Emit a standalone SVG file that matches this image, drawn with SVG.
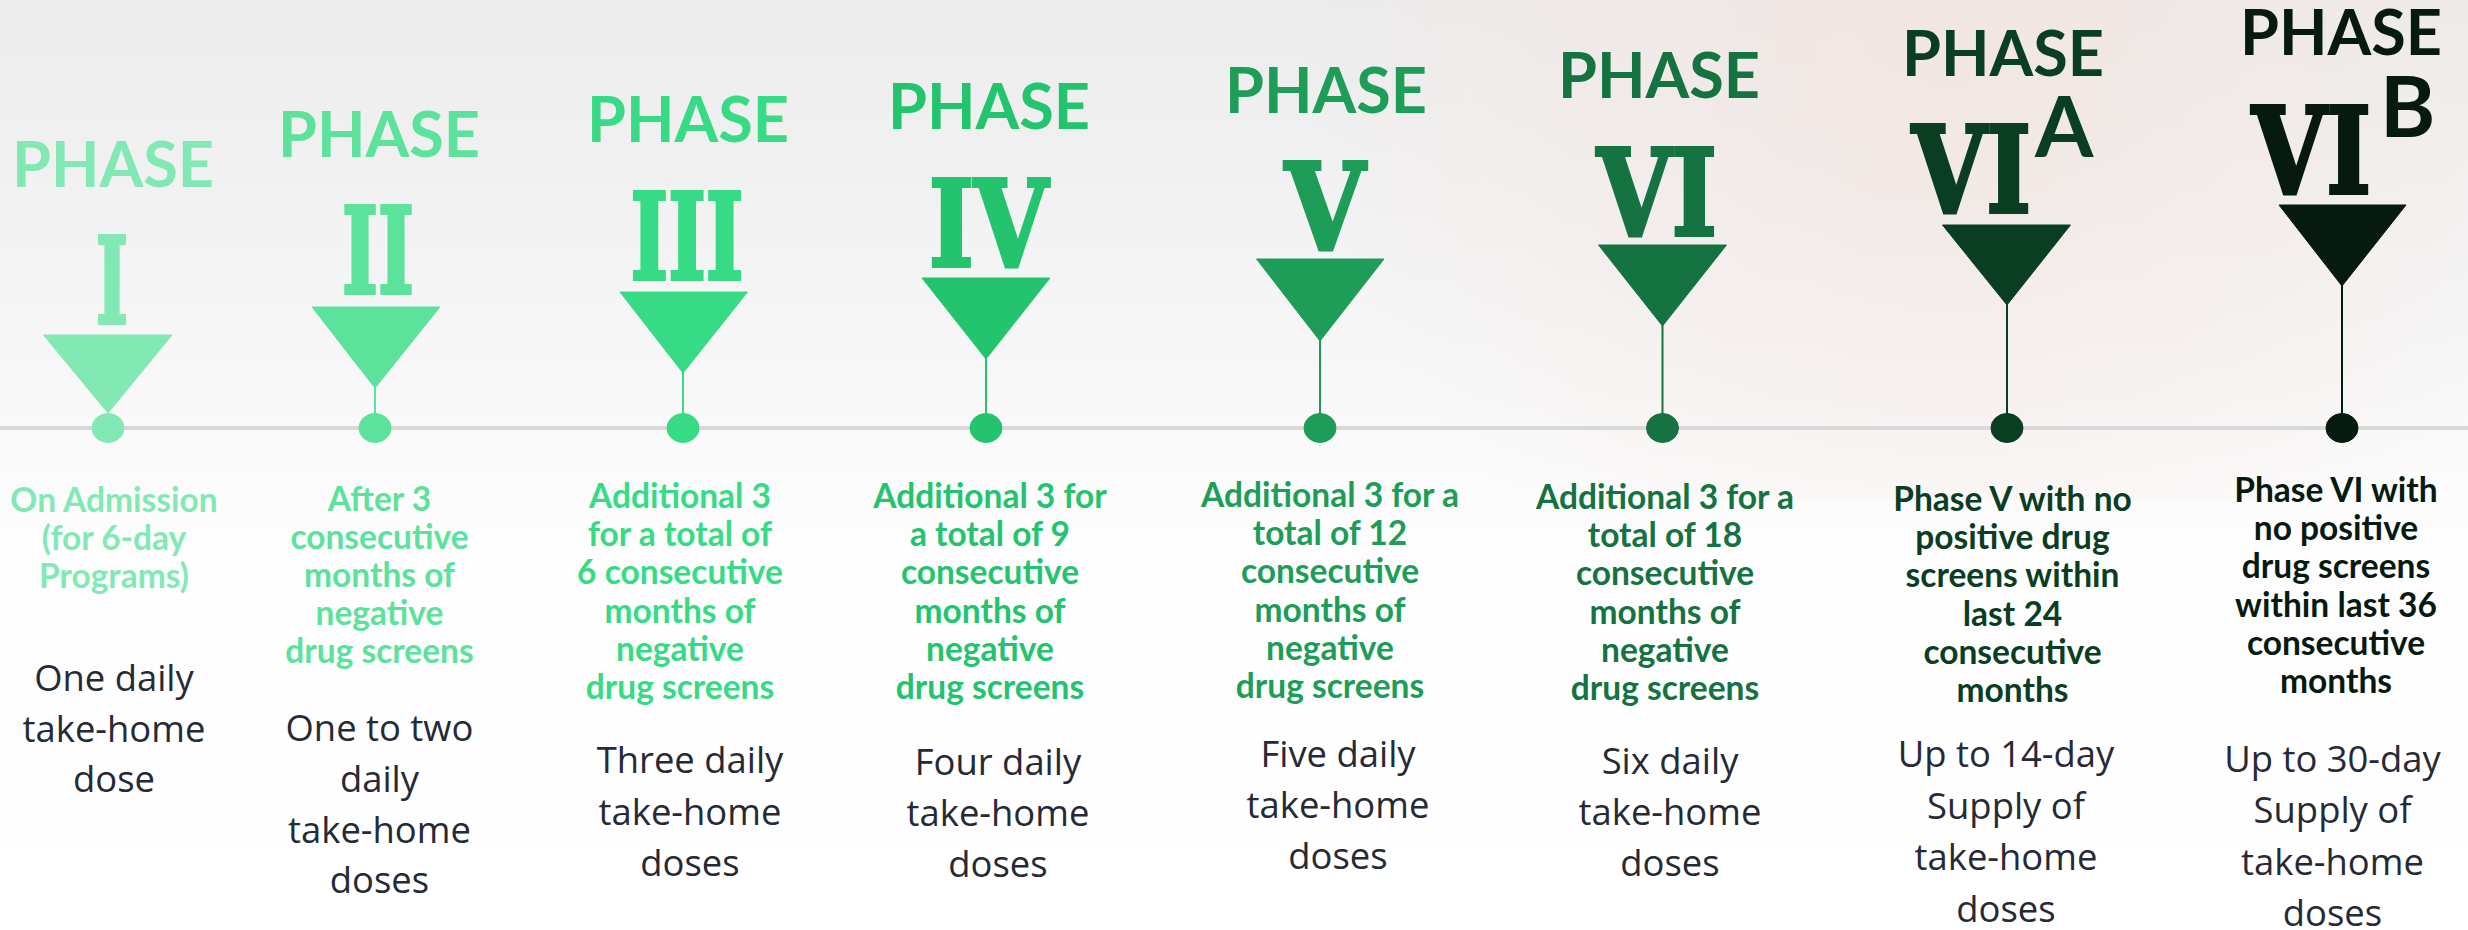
<svg xmlns="http://www.w3.org/2000/svg" width="2468" height="930" viewBox="0 0 2468 930">
  <defs>
    <linearGradient id="bgFade" x1="0" y1="0" x2="0" y2="1">
      <stop offset="0" stop-color="#ececec"/>
      <stop offset="0.22" stop-color="#f2f2f2"/>
      <stop offset="0.42" stop-color="#f8f8f8"/>
      <stop offset="0.58" stop-color="#fdfdfd"/>
      <stop offset="1" stop-color="#ffffff"/>
    </linearGradient>
    <radialGradient id="warmTint" cx="1950" cy="20" r="650" gradientUnits="userSpaceOnUse">
      <stop offset="0" stop-color="#f3e4e0" stop-opacity="0.8"/>
      <stop offset="1" stop-color="#f3e4e0" stop-opacity="0"/>
    </radialGradient>
    <style>
      .ph { font-family: Lato, "Liberation Sans", sans-serif; font-weight: 700; font-size: 63px; text-anchor: middle; }
      .sup { font-family: Lato, "Liberation Sans", sans-serif; font-weight: 700; font-size: 84px; }
      .num { font-family: "DejaVu Serif", "Liberation Serif", serif; font-weight: 700; font-size: 120px; text-anchor: middle; stroke-width: 4; stroke-linejoin: miter; }
      .cond { font-family: Lato, "Liberation Sans", sans-serif; font-weight: 700; font-size: 33.5px; text-anchor: middle; }
      .dose { font-family: "Open Sans", "Liberation Sans", sans-serif; font-weight: 400; font-size: 36.4px; text-anchor: middle; fill: #252a35; }
      .timeline { stroke: #d9d9d9; stroke-width: 4; }
      .stem { stroke-width: 2; }
      .c1 { fill: #82e9b4; stroke: #82e9b4; }
      .c2 { fill: #5de29c; stroke: #5de29c; }
      .c3 { fill: #37db85; stroke: #37db85; }
      .c4 { fill: #24c46f; stroke: #24c46f; }
      .c5 { fill: #1e9d59; stroke: #1e9d59; }
      .c6 { fill: #157341; stroke: #157341; }
      .c7 { fill: #0a3e23; stroke: #0a3e23; }
      .c8 { fill: #061a10; stroke: #061a10; }
      .ph, .sup, .cond, .dose { stroke: none; }
    </style>
  </defs>

  <!-- backdrop -->
  <rect width="2468" height="930" fill="#ffffff"/>
  <rect width="2468" height="930" fill="url(#bgFade)"/>
  <rect width="2468" height="500" fill="url(#warmTint)"/>

  <!-- timeline and the stems joining each marker to its dot -->
  <g id="connectors">
    <line class="timeline" x1="0" y1="428" x2="2468" y2="428"/>
    <line class="stem c2" x1="375" y1="386" x2="375" y2="416"/>
    <line class="stem c3" x1="683" y1="371" x2="683" y2="416"/>
    <line class="stem c4" x1="986" y1="357" x2="986" y2="416"/>
    <line class="stem c5" x1="1320" y1="339" x2="1320" y2="416"/>
    <line class="stem c6" x1="1662.5" y1="324" x2="1662.5" y2="416"/>
    <line class="stem c7" x1="2007" y1="303" x2="2007" y2="416"/>
    <line class="stem c8" x1="2342" y1="284" x2="2342" y2="416"/>
  </g>

  <g id="phase-1">
    <text class="ph c1" x="113" y="187">PHASE</text>
    <text class="num c1" x="112" y="323" textLength="32" lengthAdjust="spacingAndGlyphs">I</text>
    <polygon class="c1" points="43.5,335 172,335 108,413"/>
    <ellipse class="c1" cx="108" cy="428" rx="16" ry="14.5"/>
    <text class="cond c1" x="114" y="512">On Admission<tspan x="114" dy="38">(for 6-day</tspan><tspan x="114" dy="38">Programs)</tspan></text>
    <text class="dose" x="114" y="691">One daily<tspan x="114" dy="51">take-home</tspan><tspan x="114" dy="50">dose</tspan></text>
  </g>

  <g id="phase-2">
    <text class="ph c2" x="379" y="157">PHASE</text>
    <text class="num c2" x="378" y="293" textLength="72" lengthAdjust="spacingAndGlyphs">II</text>
    <polygon class="c2" points="312,307 440,307 375,388"/>
    <ellipse class="c2" cx="375" cy="428" rx="16" ry="14.5"/>
    <text class="cond c2" x="379.5" y="511">After 3<tspan x="379.5" dy="38">consecutive</tspan><tspan x="379.5" dy="38">months of</tspan><tspan x="379.5" dy="38">negative</tspan><tspan x="379.5" dy="38">drug screens</tspan></text>
    <text class="dose" x="379.5" y="741">One to two<tspan x="379.5" dy="51">daily</tspan><tspan x="379.5" dy="51">take-home</tspan><tspan x="379.5" dy="50">doses</tspan></text>
  </g>

  <g id="phase-3">
    <text class="ph c3" x="688" y="142">PHASE</text>
    <text class="num c3" x="687" y="279" textLength="113" lengthAdjust="spacingAndGlyphs">III</text>
    <polygon class="c3" points="620,292 747.5,292 683,373"/>
    <ellipse class="c3" cx="683" cy="428" rx="16" ry="14.5"/>
    <text class="cond c3" x="680" y="508">Additional 3<tspan x="680" dy="38.2">for a total of</tspan><tspan x="680" dy="38.2">6 consecutive</tspan><tspan x="680" dy="38.2">months of</tspan><tspan x="680" dy="38.2">negative</tspan><tspan x="680" dy="38.2">drug screens</tspan></text>
    <text class="dose" x="690" y="773">Three daily<tspan x="690" dy="51.5">take-home</tspan><tspan x="690" dy="51.5">doses</tspan></text>
  </g>

  <g id="phase-4">
    <text class="ph c4" x="989" y="129">PHASE</text>
    <text class="num c4" x="988.5" y="266" textLength="119" lengthAdjust="spacingAndGlyphs">IV</text>
    <polygon class="c4" points="922,278 1050,278 986,359"/>
    <ellipse class="c4" cx="986" cy="428" rx="16" ry="14.5"/>
    <text class="cond c4" x="990" y="508">Additional 3 for<tspan x="990" dy="38.2">a total of 9</tspan><tspan x="990" dy="38.2">consecutive</tspan><tspan x="990" dy="38.2">months of</tspan><tspan x="990" dy="38.2">negative</tspan><tspan x="990" dy="38.2">drug screens</tspan></text>
    <text class="dose" x="998" y="775">Four daily<tspan x="998" dy="51">take-home</tspan><tspan x="998" dy="51">doses</tspan></text>
  </g>

  <g id="phase-5">
    <text class="ph c5" x="1326" y="113">PHASE</text>
    <text class="num c5" x="1325" y="249" textLength="80" lengthAdjust="spacingAndGlyphs">V</text>
    <polygon class="c5" points="1256.5,259 1384,259 1320,341"/>
    <ellipse class="c5" cx="1320" cy="428" rx="16" ry="14.5"/>
    <text class="cond c5" x="1330" y="507">Additional 3 for a<tspan x="1330" dy="38.2">total of 12</tspan><tspan x="1330" dy="38.2">consecutive</tspan><tspan x="1330" dy="38.2">months of</tspan><tspan x="1330" dy="38.2">negative</tspan><tspan x="1330" dy="38.2">drug screens</tspan></text>
    <text class="dose" x="1338" y="767">Five daily<tspan x="1338" dy="51">take-home</tspan><tspan x="1338" dy="51">doses</tspan></text>
  </g>

  <g id="phase-6">
    <text class="ph c6" x="1659" y="98">PHASE</text>
    <text class="num c6" x="1657" y="235" textLength="120" lengthAdjust="spacingAndGlyphs">VI</text>
    <polygon class="c6" points="1598.5,245 1726.5,245 1662.5,326"/>
    <ellipse class="c6" cx="1662.5" cy="428" rx="16" ry="14.5"/>
    <text class="cond c6" x="1665" y="509">Additional 3 for a<tspan x="1665" dy="38.2">total of 18</tspan><tspan x="1665" dy="38.2">consecutive</tspan><tspan x="1665" dy="38.2">months of</tspan><tspan x="1665" dy="38.2">negative</tspan><tspan x="1665" dy="38.2">drug screens</tspan></text>
    <text class="dose" x="1670" y="774">Six daily<tspan x="1670" dy="51">take-home</tspan><tspan x="1670" dy="51">doses</tspan></text>
  </g>

  <g id="phase-6a">
    <text class="ph c7" x="2003" y="76">PHASE</text>
    <text class="num c7" x="1971.5" y="212" textLength="119" lengthAdjust="spacingAndGlyphs">VI</text>
    <text class="sup c7" x="2035" y="157">A</text>
    <polygon class="c7" points="1942.5,225 2070.5,225 2007,305"/>
    <ellipse class="c7" cx="2007" cy="428" rx="16" ry="14.5"/>
    <text class="cond c7" x="2012.5" y="511">Phase V with no<tspan x="2012.5" dy="38.2">positive drug</tspan><tspan x="2012.5" dy="38.2">screens within</tspan><tspan x="2012.5" dy="38.2">last 24</tspan><tspan x="2012.5" dy="38.2">consecutive</tspan><tspan x="2012.5" dy="38.2">months</tspan></text>
    <text class="dose" x="2006" y="767">Up to 14-day<tspan x="2006" dy="51.5">Supply of</tspan><tspan x="2006" dy="51.5">take-home</tspan><tspan x="2006" dy="51.5">doses</tspan></text>
  </g>

  <g id="phase-6b">
    <text class="ph c8" x="2341" y="55">PHASE</text>
    <text class="num c8" x="2311.5" y="193" textLength="119" lengthAdjust="spacingAndGlyphs">VI</text>
    <text class="sup c8" x="2380" y="137">B</text>
    <polygon class="c8" points="2279,205 2406,205 2342,286"/>
    <ellipse class="c8" cx="2342" cy="428" rx="16" ry="14.5"/>
    <text class="cond c8" x="2336" y="502">Phase VI with<tspan x="2336" dy="38.2">no positive</tspan><tspan x="2336" dy="38.2">drug screens</tspan><tspan x="2336" dy="38.2">within last 36</tspan><tspan x="2336" dy="38.2">consecutive</tspan><tspan x="2336" dy="38.2">months</tspan></text>
    <text class="dose" x="2332.5" y="772">Up to 30-day<tspan x="2332.5" dy="51.3">Supply of</tspan><tspan x="2332.5" dy="51.3">take-home</tspan><tspan x="2332.5" dy="51.3">doses</tspan></text>
  </g>
</svg>
